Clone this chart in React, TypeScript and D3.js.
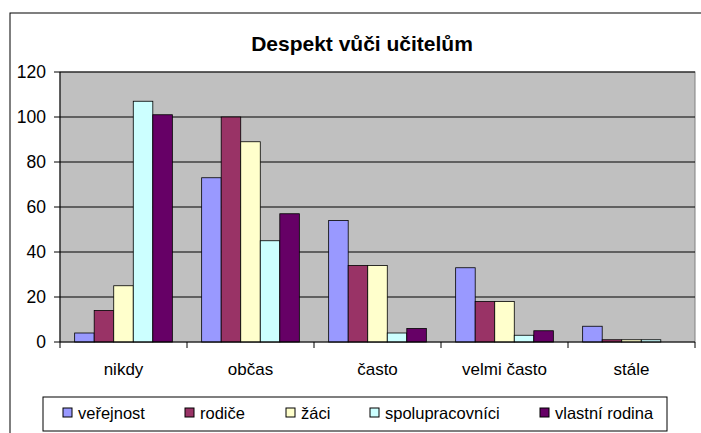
import React from 'react';
import * as d3 from 'd3';

const categories = ['nikdy', 'občas', 'často', 'velmi často', 'stále'];
const seriesNames = ['veřejnost', 'rodiče', 'žáci', 'spolupracovníci', 'vlastní rodina'];
const seriesColors = ['#9999FF', '#993366', '#FFFFCC', '#CCFFFF', '#660066'];
const verejnost = [4, 73, 54, 33, 7];
const rodice = [14, 100, 34, 18, 1];
const zaci = [25, 89, 34, 18, 1];
const spolupracovnici = [107, 45, 4, 3, 1];
const vlastniRodina = [101, 57, 6, 5, 0];
const yTicks = [0, 20, 40, 60, 80, 100, 120];
const legendX = [63, 185, 286, 370, 540];

const seriesValues = [verejnost, rodice, zaci, spolupracovnici, vlastniRodina];

const App = () => {
    const width = 701;
    const height = 433;
    const left = 60;
    const right = 695;
    const top = 72;
    const bottom = 342;
    const font = 'Arial, "Liberation Sans", sans-serif';

    const x = d3.scaleBand()
        .domain(categories)
        .range([left, right])
        .paddingInner(0)
        .paddingOuter(0);

    // Excel style gap width 150%
    const bw = x.bandwidth() / 6.5;
    const inner = d3.scaleBand()
        .domain(seriesNames)
        .range([bw * 0.75, x.bandwidth() - bw * 0.75]);

    const y = d3.scaleLinear().domain([0, 120]).range([bottom, top]);

    return (
        <svg width={width} height={height} style={{ position: 'absolute', left: 0, top: 0 }}>
            <rect x={0} y={0} width={width} height={height} fill="#fff" />
            <rect x={10} y={13} width={width + 10} height={height + 10} fill="#fff" stroke="#000" strokeWidth={1} />
            <text x={362} y={51} textAnchor="middle" fontFamily={font} fontSize={21} fontWeight="bold">
                Despekt vůči učitelům
            </text>
            <rect x={left} y={top} width={right - left} height={bottom - top} fill="#C0C0C0" stroke="#808080" strokeWidth={1} />
            {yTicks.filter(t => t > 0).map(t => (
                <line key={t} x1={left} x2={right} y1={y(t)} y2={y(t)} stroke="#000" strokeWidth={1} />
            ))}
            {categories.map((c, ci) => (
                <g key={c} transform={`translate(${x(c)},0)`}>
                    {seriesNames.map((s, si) => {
                        const v = seriesValues[si][ci];
                        if (v <= 0) return null;
                        return (
                            <rect
                                key={s}
                                x={inner(s)}
                                y={y(v)}
                                width={inner.bandwidth()}
                                height={bottom - y(v)}
                                fill={seriesColors[si]}
                                stroke="#000"
                                strokeWidth={0.8}
                            />
                        );
                    })}
                </g>
            ))}
            <line x1={left} x2={left} y1={top} y2={bottom} stroke="#000" />
            <line x1={left} x2={right} y1={bottom} y2={bottom} stroke="#000" />
            {yTicks.map(t => (
                <g key={t}>
                    <line x1={left - 6} x2={left} y1={y(t)} y2={y(t)} stroke="#000" />
                    <text x={46} y={y(t)} dy="0.35em" textAnchor="end" fontFamily={font} fontSize={17.5}>
                        {t}
                    </text>
                </g>
            ))}
            {categories.map(c => (
                <g key={c}>
                    <line x1={x(c)} x2={x(c)} y1={bottom} y2={bottom + 6} stroke="#000" />
                    <text x={(x(c) as number) + x.bandwidth() / 2} y={369} dy="0.35em" textAnchor="middle" fontFamily={font} fontSize={17}>
                        {c}
                    </text>
                </g>
            ))}
            <line x1={right} x2={right} y1={bottom} y2={bottom + 6} stroke="#000" />
            <rect x={43} y={397} width={624} height={34} fill="#fff" stroke="#000" strokeWidth={1} />
            {seriesNames.map((s, i) => (
                <g key={s}>
                    <rect x={legendX[i]} y={408} width={9} height={9} fill={seriesColors[i]} stroke="#000" strokeWidth={1} />
                    <text x={legendX[i] + 15} y={413} dy="0.35em" fontFamily={font} fontSize={16.5}>
                        {s}
                    </text>
                </g>
            ))}
        </svg>
    );
};

export default App;
